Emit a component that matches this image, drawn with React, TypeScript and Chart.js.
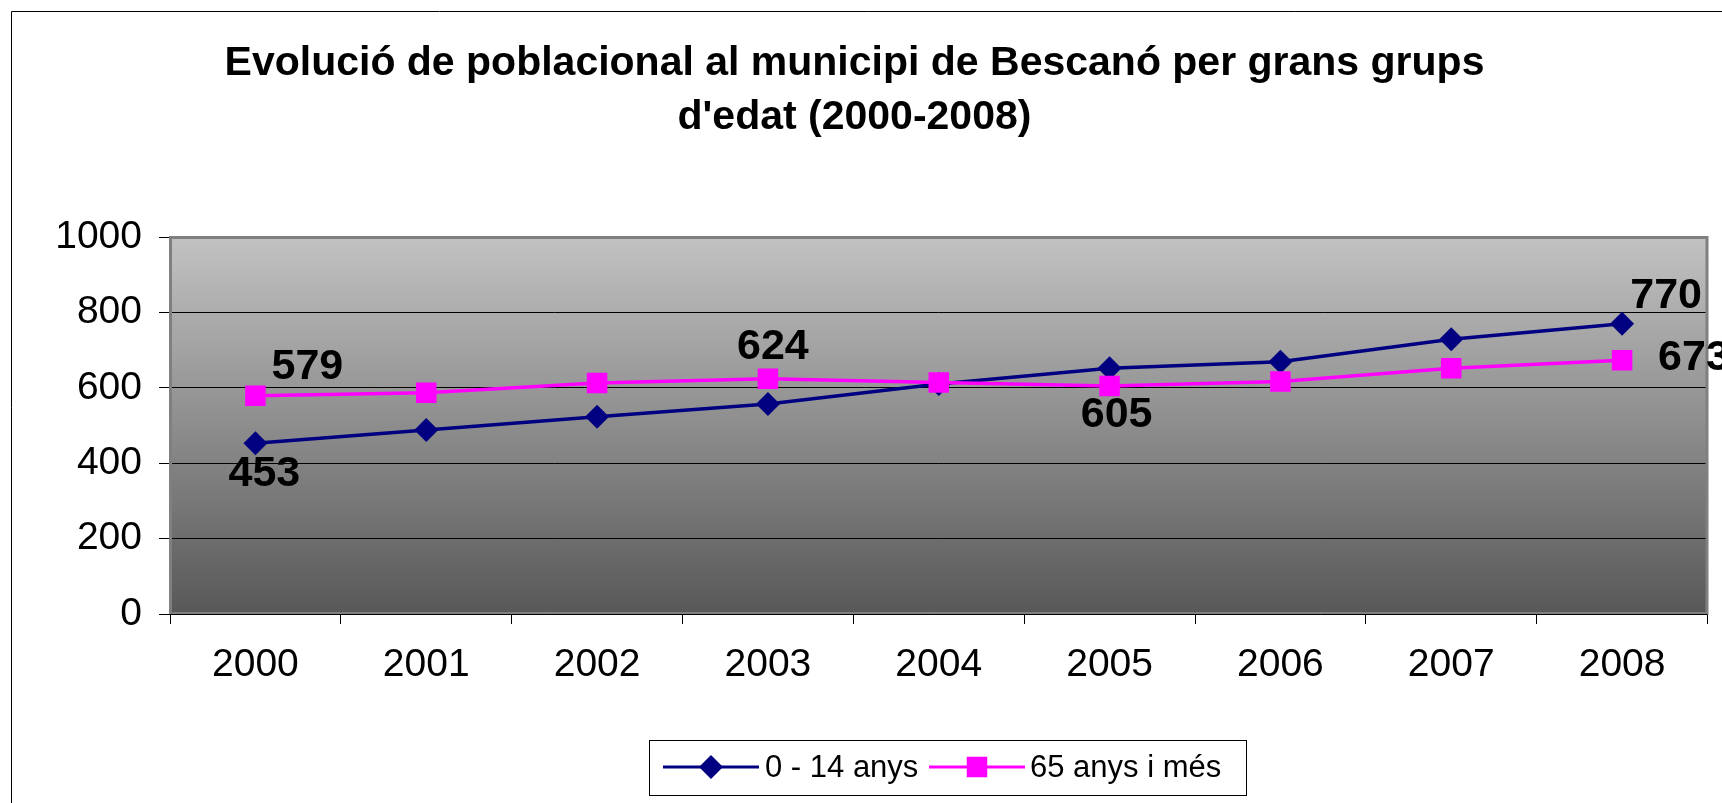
import React, { useEffect, useRef } from 'react';
import { Chart, registerables } from 'chart.js';

Chart.register(...registerables);

// ---------- data ----------
const TITLE_LINES = [
  'Evolució de poblacional al municipi de Bescanó per grans grups',
  "d'edat (2000-2008)",
];
const YEARS = ['2000', '2001', '2002', '2003', '2004', '2005', '2006', '2007', '2008'];
const SERIES_NAMES = ['0 - 14 anys', '65 anys i més'];
const YOUTH = [453, 488, 523, 557, 610, 652, 669, 729, 770];
const ELDERLY = [579, 587, 613, 624, 614, 605, 617, 652, 673];
const Y_MIN = 0;
const Y_MAX = 1000;
const Y_STEP = 200;
// which points carry a value label: [series index, point index]
const LABELLED_POINTS = [
  [0, 0],
  [1, 0],
  [1, 3],
  [1, 5],
  [0, 8],
  [1, 8],
];

// ---------- styles ----------
const FONT = '"Liberation Sans", Arial, Helvetica, sans-serif';
const NAVY = '#000080';
const PINK = '#FF00FF';
// label offsets (px) relative to their point, same order as LABELLED_POINTS
const LABEL_OFFSETS = [
  { dx: 9, dy: 31, align: 'center' },
  { dx: 52, dy: -29, align: 'center' },
  { dx: 5, dy: -32, align: 'center' },
  { dx: 7, dy: 29, align: 'center' },
  { dx: 44, dy: -28, align: 'center' },
  { dx: 36, dy: -2, align: 'left' },
];

function drawMarker(ctx: CanvasRenderingContext2D, style: string, x: number, y: number, r: number, color: string) {
  ctx.fillStyle = color;
  ctx.beginPath();
  if (style === 'rectRot') {
    ctx.moveTo(x, y - r);
    ctx.lineTo(x + r, y);
    ctx.lineTo(x, y + r);
    ctx.lineTo(x - r, y);
    ctx.closePath();
  } else {
    const h = r * Math.SQRT1_2;
    ctx.rect(x - h, y - h, 2 * h, 2 * h);
  }
  ctx.fill();
}

const framePlugin = {
  id: 'excelFrame',
  beforeDraw(chart: any) {
    const { ctx, chartArea } = chart;
    ctx.save();
    ctx.strokeStyle = '#000';
    ctx.lineWidth = 1;
    ctx.beginPath();
    ctx.moveTo(11.5, chart.height + 5);
    ctx.lineTo(11.5, 11.5);
    ctx.lineTo(chart.width + 5, 11.5);
    ctx.stroke();
    const g = ctx.createLinearGradient(0, chartArea.top, 0, chartArea.bottom);
    g.addColorStop(0, '#C2C2C2');
    g.addColorStop(1, '#585858');
    ctx.fillStyle = g;
    ctx.fillRect(chartArea.left, chartArea.top, chartArea.right - chartArea.left, chartArea.bottom - chartArea.top);
    ctx.restore();
  },
  beforeDatasetsDraw(chart: any) {
    const { ctx, chartArea } = chart;
    ctx.save();
    ctx.strokeStyle = '#808080';
    ctx.lineWidth = 3;
    ctx.strokeRect(chartArea.left + 0.5, chartArea.top + 0.5, chartArea.right - chartArea.left - 1, chartArea.bottom - chartArea.top - 1);
    ctx.strokeStyle = '#000';
    ctx.lineWidth = 1;
    ctx.beginPath();
    ctx.moveTo(chartArea.left - 11, chartArea.bottom + 0.5);
    ctx.lineTo(chartArea.right, chartArea.bottom + 0.5);
    ctx.stroke();
    ctx.restore();
  },
};

const labelPlugin = {
  id: 'valueLabels',
  afterDatasetsDraw(chart: any) {
    const { ctx } = chart;
    ctx.save();
    ctx.fillStyle = '#000';
    ctx.font = `bold 43px ${FONT}`;
    ctx.textBaseline = 'middle';
    LABELLED_POINTS.forEach(([s, i], k) => {
      const el = chart.getDatasetMeta(s).data[i];
      const v = chart.data.datasets[s].data[i];
      const o = LABEL_OFFSETS[k];
      ctx.textAlign = o.align;
      ctx.fillText(String(v), el.x + o.dx, el.y + o.dy);
    });
    ctx.restore();
  },
};

const legendPlugin = {
  id: 'excelLegend',
  afterDraw(chart: any) {
    const { ctx } = chart;
    ctx.save();
    ctx.strokeStyle = '#000';
    ctx.lineWidth = 1;
    ctx.strokeRect(649.5, 740.5, 597, 55);
    const y = 767;
    const items = [
      { x0: 663, x1: 759, tx: 765 },
      { x0: 929, x1: 1025, tx: 1030 },
    ];
    chart.data.datasets.forEach((ds: any, i: number) => {
      const it = items[i];
      ctx.strokeStyle = ds.borderColor;
      ctx.lineWidth = 3;
      ctx.beginPath();
      ctx.moveTo(it.x0, y);
      ctx.lineTo(it.x1, y);
      ctx.stroke();
      drawMarker(ctx, ds.pointStyle, (it.x0 + it.x1) / 2, y, ds.pointRadius, ds.pointBackgroundColor);
      ctx.fillStyle = '#000';
      ctx.font = `31px ${FONT}`;
      ctx.textAlign = 'left';
      ctx.textBaseline = 'middle';
      ctx.fillText(ds.label, it.tx, y + 1);
    });
    ctx.restore();
  },
};

export default function App() {
  const ref = useRef<HTMLCanvasElement | null>(null);

  useEffect(() => {
    if (!ref.current) return;
    const chart = new Chart(ref.current, {
      type: 'line',
      data: {
        labels: YEARS,
        datasets: [
          {
            label: SERIES_NAMES[0],
            data: YOUTH,
            borderColor: NAVY,
            backgroundColor: NAVY,
            pointBackgroundColor: NAVY,
            borderWidth: 3.5,
            pointStyle: 'rectRot',
            pointRadius: 12,
            pointBorderWidth: 0,
            tension: 0,
            order: 1,
          },
          {
            label: SERIES_NAMES[1],
            data: ELDERLY,
            borderColor: PINK,
            backgroundColor: PINK,
            pointBackgroundColor: PINK,
            borderWidth: 3.5,
            pointStyle: 'rect',
            pointRadius: 14.5,
            pointBorderWidth: 0,
            tension: 0,
            order: 0,
          },
        ],
      },
      options: {
        responsive: false,
        animation: false,
        devicePixelRatio: 1,
        layout: { padding: { left: 0, right: 13, top: 0, bottom: 0 } },
        plugins: {
          legend: { display: false },
          tooltip: { enabled: false },
          title: {
            display: true,
            text: TITLE_LINES,
            color: '#000',
            font: { family: FONT, size: 41, weight: 'bold', lineHeight: 54 / 41 },
            padding: { top: 37, bottom: 92 },
          },
        },
        scales: {
          x: {
            offset: true,
            grid: {
              offset: true,
              drawOnChartArea: false,
              drawTicks: true,
              tickLength: 10,
              tickColor: '#000',
              tickWidth: 1,
            },
            border: { display: false },
            ticks: {
              color: '#000',
              font: { family: FONT, size: 39 },
              padding: 18,
              maxRotation: 0,
              autoSkip: false,
            },
            afterFit: (s: any) => {
              s.height = 189;
            },
          },
          y: {
            min: Y_MIN,
            max: Y_MAX,
            grid: {
              color: (c: any) => (c.tick && (c.tick.value === Y_MIN || c.tick.value === Y_MAX) ? 'rgba(0,0,0,0)' : '#000'),
              lineWidth: 1,
              tickLength: 11,
              tickColor: '#000',
              drawTicks: true,
            },
            border: { display: false },
            ticks: {
              stepSize: Y_STEP,
              color: '#000',
              font: { family: FONT, size: 39 },
              padding: 17,
              callback: (v: any) => String(v),
            },
            afterFit: (s: any) => {
              s.width = 170;
            },
          },
        },
      },
      plugins: [framePlugin, labelPlugin, legendPlugin],
    });
    return () => chart.destroy();
  }, []);

  return (
    <div style={{ position: 'fixed', left: 0, top: 0, width: 1722, height: 803, background: '#fff' }}>
      <canvas ref={ref} width={1722} height={803} style={{ width: 1722, height: 803, display: 'block' }} />
    </div>
  );
}
